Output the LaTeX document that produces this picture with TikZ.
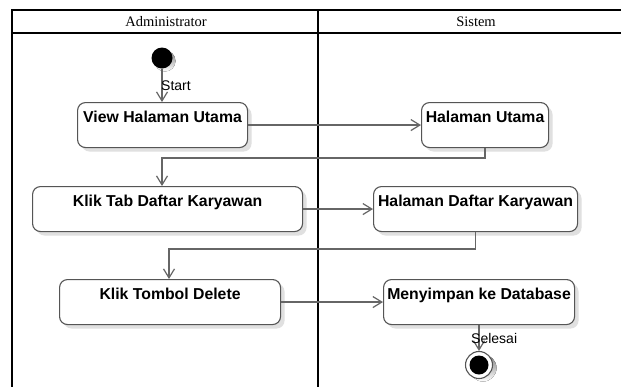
\documentclass[tikz,border=0pt]{standalone}
\usepackage{fontspec}
\setmainfont{Liberation Serif}
\newfontfamily\labfont{Liberation Sans}
\usetikzlibrary{shadows,arrows.meta}

\definecolor{boxline}{HTML}{555555}
\definecolor{flowline}{HTML}{666666}
\definecolor{shade}{HTML}{E0E0E0}

\tikzset{
  lane/.style={draw=black, line width=1.8pt},
  lanehead/.style={font=\fontsize{14.5}{15}\selectfont, inner sep=0pt},
  actbox/.style={draw=boxline, line width=1.1pt, fill=white, rounded corners=8pt,
    anchor=north west, inner sep=0pt, align=center,
    text height=20pt, text depth=25pt,
    font=\labfont\bfseries\fontsize{15.8}{16}\selectfont,
    drop shadow={shadow xshift=4pt, shadow yshift=-4pt, fill=shade, opacity=1}},
  flow/.style={draw=flowline, line width=1.3pt,
    -{Straight Barb[length=9pt,width=11pt,line width=1.2pt]}},
  flowlabel/.style={font=\labfont\fontsize{14}{15}\selectfont, inner sep=0pt, anchor=west},
}

\begin{document}
\begin{tikzpicture}[x=1pt,y=-1pt]
\useasboundingbox (0,0) rectangle (621,386);
\fill[white] (0,0) rectangle (621,386);

% swimlane frame
\draw[lane] (12,400) -- (12,10) -- (640,10);
\draw[lane] (12,33) -- (640,33);
\draw[lane] (318,10) -- (318,400);
\node[lanehead] (admhead) at (166,22) {Administrator};
\node[lanehead] (syshead) at (476,22) {Sistem};

% initial node
\fill[shade] (165,61) circle (10.5pt);
\node[circle, fill=black, minimum size=21pt, inner sep=0pt] (start) at (162,58) {};

% actions
\node[actbox, minimum width=170pt] (view) at (77,102) {View Halaman Utama};
\node[actbox, minimum width=127pt] (hu) at (421,102) {Halaman Utama};
\node[actbox, minimum width=270pt] (klik) at (32,186) {Klik Tab Daftar Karyawan};
\node[actbox, minimum width=204pt] (hd) at (373,186) {Halaman Daftar Karyawan};
\node[actbox, minimum width=221pt] (tombol) at (59,279) {Klik Tombol Delete};
\node[actbox, minimum width=191pt] (simpan) at (383,279) {Menyimpan ke Database};

% final node
\fill[shade] (483,368) circle (13.5pt);
\node[circle, draw=boxline, line width=1.1pt, fill=white, minimum size=27pt, inner sep=0pt] (finish) at (479,365) {};
\node[circle, fill=black, minimum size=19pt, inner sep=0pt] (finishdot) at (479,365) {};

% routing points
\coordinate (r1) at (162,158);
\coordinate (r2) at (169,249);

% transitions
\draw[flow] (start) -- (view.north -| start);
\draw[flow] (view.east) -- (hu.west);
\draw[flow] (hu.south) |- (r1) -- (klik.north -| r1);
\draw[flow] (klik.east) -- (hd.west);
\draw[flow] (hd.south) |- (r2) -- (tombol.north -| r2);
\draw[flow] (tombol.east) -- (simpan.west);
\draw[flow] (simpan.south -| finish) -- (finish.north);

\node[flowlabel] (startlbl) at (161,86) {Start};
\node[flowlabel] (endlbl) at (471,338) {Selesai};
\end{tikzpicture}
\end{document}
